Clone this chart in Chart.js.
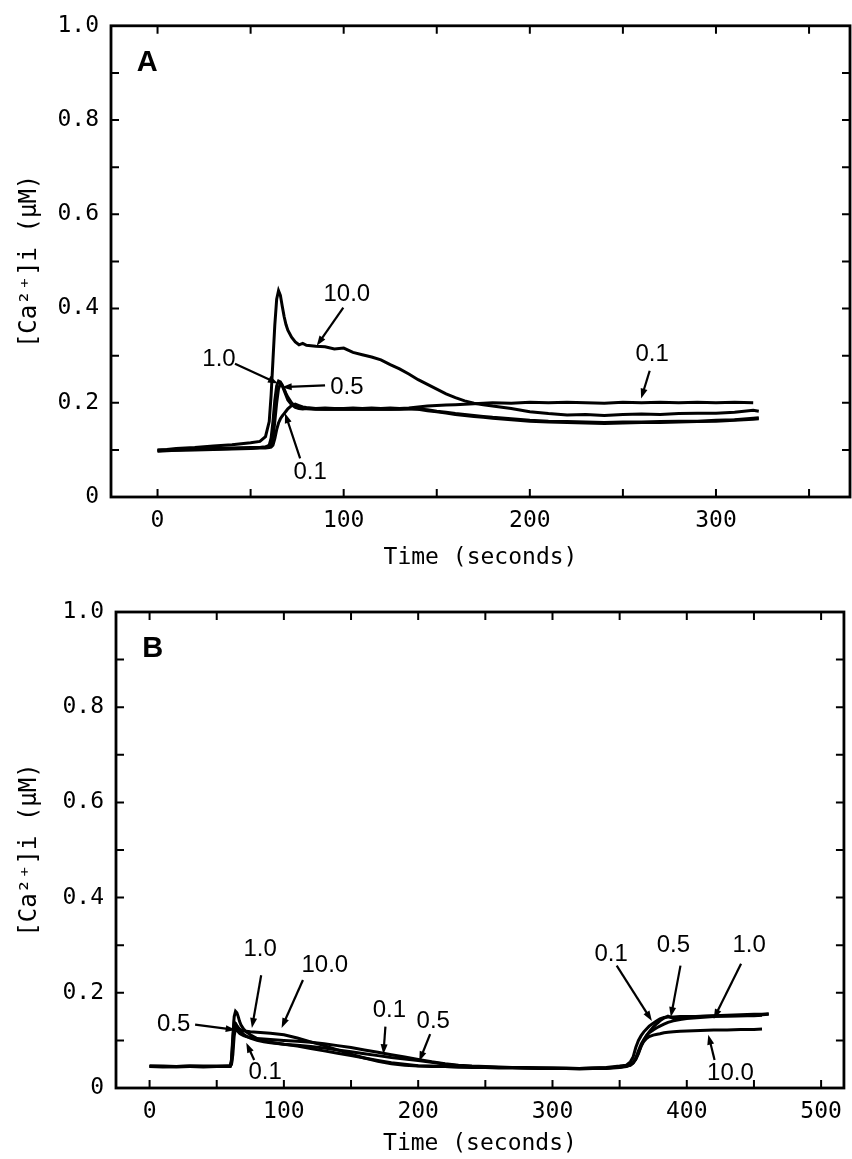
<!DOCTYPE html>
<html>
<head>
<meta charset="utf-8">
<script src="https://cdn.jsdelivr.net/npm/chart.js@4.4.1/dist/chart.umd.min.js"></script>
<style>
  html, body { margin: 0; padding: 0; background: #fff; }
  #wrap { position: relative; width: 852px; height: 1159px; }
  canvas { position: absolute; left: 0; }
</style>
</head>
<body>
<div id="wrap">
  <canvas id="chartA" width="852" height="580" style="top:0"></canvas>
  <canvas id="chartB" width="852" height="579" style="top:580px"></canvas>
</div>
<script>
// ---- Panel A: Zeit (s) und [Ca2+]i (uM) je Konzentration ----
var zeitA = [0,5,10,20,30,40,50,55,58,60, 61,62,63,64,65,66,67,68,69,70,
  72,74,76,78,80,85,90,95,100,105, 110,115,120,125,130,135,140,145,150,155,
  160,165,170,175,180,190,200,210,220,230, 240,250,260,270,280,290,300,310,320,323];

var a10 = [0.100,0.101,0.103,0.105,0.108,0.111,0.115,0.118,0.128,0.160,
  0.215,0.290,0.365,0.420,0.438,0.428,0.405,0.383,0.366,0.354,
  0.339,0.329,0.323,0.326,0.322,0.320,0.319,0.314,0.316,0.307,
  0.302,0.297,0.291,0.281,0.272,0.261,0.249,0.239,0.229,0.219,
  0.211,0.204,0.199,0.196,0.193,0.188,0.181,0.177,0.174,0.175,
  0.173,0.175,0.176,0.175,0.177,0.178,0.178,0.180,0.184,0.182];

var a1 = [0.098,0.099,0.100,0.101,0.102,0.103,0.104,0.105,0.106,0.110,
  0.125,0.160,0.205,0.236,0.246,0.244,0.238,0.229,0.220,0.212,
  0.200,0.192,0.189,0.188,0.188,0.186,0.187,0.186,0.187,0.186,
  0.187,0.186,0.187,0.186,0.187,0.188,0.186,0.183,0.181,0.178,
  0.175,0.173,0.171,0.169,0.167,0.164,0.161,0.159,0.158,0.157,
  0.156,0.157,0.158,0.158,0.159,0.160,0.161,0.163,0.165,0.166];

var a05 = [0.099,0.100,0.100,0.102,0.103,0.104,0.105,0.105,0.106,0.107,
  0.110,0.125,0.160,0.200,0.230,0.240,0.236,0.226,0.216,0.206,
  0.196,0.190,0.188,0.187,0.188,0.187,0.186,0.187,0.186,0.187,
  0.186,0.187,0.186,0.187,0.186,0.187,0.187,0.185,0.182,0.180,
  0.177,0.175,0.173,0.171,0.169,0.166,0.163,0.161,0.160,0.159,
  0.158,0.159,0.159,0.160,0.161,0.161,0.163,0.164,0.167,0.168];

var a01 = [0.097,0.098,0.099,0.100,0.101,0.102,0.103,0.104,0.104,0.105,
  0.106,0.110,0.124,0.143,0.157,0.166,0.172,0.177,0.182,0.187,
  0.194,0.197,0.194,0.191,0.190,0.188,0.189,0.188,0.188,0.189,
  0.188,0.189,0.188,0.189,0.188,0.189,0.191,0.193,0.194,0.195,
  0.196,0.197,0.198,0.199,0.200,0.199,0.201,0.200,0.201,0.200,
  0.199,0.201,0.200,0.201,0.200,0.201,0.200,0.201,0.200,null];

// ---- Panel B ----
var zeitB = [0,10,20,30,40,50,58,60,61,62, 63,64,65,66,67,68,70,72,75,80,
  85,90,100,110,120,130,140,150,160,170, 180,190,200,210,220,230,240,250,260,270,
  280,290,300,310,320,330,340,350,355,358, 360,362,364,366,368,370,372,375,378,380,
  383,386,390,395,400,410,420,430,440,450, 456,461];

var b1 = [0.045,0.045,0.044,0.045,0.045,0.045,0.045,0.046,0.060,0.110,
  0.150,0.161,0.158,0.150,0.140,0.133,0.124,0.118,0.112,0.104,
  0.099,0.096,0.092,0.088,0.083,0.078,0.073,0.068,0.063,0.058,
  0.053,0.050,0.047,0.046,0.045,0.044,0.043,0.043,0.042,0.042,
  0.042,0.041,0.041,0.041,0.040,0.041,0.041,0.043,0.045,0.048,
  0.053,0.063,0.078,0.092,0.102,0.110,0.116,0.122,0.127,0.130,
  0.134,0.138,0.141,0.144,0.146,0.148,0.150,0.151,0.152,0.153,
  0.154,0.155];

var b10 = [0.046,0.046,0.045,0.046,0.046,0.046,0.046,0.046,0.050,0.088,
  0.124,0.132,0.130,0.127,0.124,0.122,0.120,0.119,0.118,0.117,
  0.116,0.115,0.112,0.105,0.097,0.089,0.080,0.071,0.063,0.056,
  0.051,0.048,0.046,0.045,0.045,0.044,0.044,0.043,0.043,0.043,
  0.042,0.042,0.042,0.041,0.041,0.042,0.042,0.044,0.046,0.049,
  0.053,0.061,0.074,0.088,0.098,0.104,0.108,0.111,0.113,0.114,
  0.116,0.117,0.118,0.119,0.120,0.121,0.122,0.122,0.123,0.123,
  0.124,null];

var b05 = [0.045,0.044,0.045,0.045,0.044,0.045,0.045,0.045,0.055,0.100,
  0.138,0.136,0.131,0.126,0.122,0.118,0.113,0.109,0.105,0.100,
  0.097,0.095,0.092,0.090,0.087,0.084,0.080,0.076,0.072,0.068,
  0.064,0.061,0.058,0.054,0.050,0.047,0.045,0.044,0.043,0.043,
  0.042,0.042,0.041,0.041,0.041,0.041,0.042,0.044,0.046,0.048,
  0.052,0.060,0.072,0.088,0.100,0.110,0.118,0.128,0.136,0.141,
  0.147,0.151,0.146,0.147,0.149,0.151,0.152,0.153,0.154,0.155,
  0.155,0.156];

var b01 = [0.046,0.045,0.045,0.046,0.045,0.045,0.046,0.046,0.050,0.070,
  0.110,0.125,0.122,0.118,0.115,0.113,0.110,0.108,0.106,0.104,
  0.103,0.102,0.100,0.098,0.096,0.093,0.089,0.085,0.080,0.075,
  0.070,0.065,0.060,0.055,0.051,0.048,0.046,0.045,0.044,0.043,
  0.043,0.042,0.042,0.042,0.041,0.042,0.043,0.046,0.048,0.055,
  0.065,0.085,0.100,0.110,0.118,0.124,0.130,0.136,0.142,0.145,
  0.148,0.149,0.149,0.150,0.150,0.150,0.151,0.151,0.152,0.152,
  0.153,null];

// Achsenbeschriftungen
var xLabelsA = [0, 100, 200, 300];
var xLabelsB = [0, 100, 200, 300, 400, 500];
var yLabels = [0, 0.2, 0.4, 0.6, 0.8, 1.0];

// Beschriftungen im Diagramm: Text bei (x,y), Pfeil von 'von' nach 'zu' (Datenkoordinaten)
var notizenA = [
  {text: 'A', x: -5.6, y: 0.92, fett: true},
  {text: '10.0', x: 101.7, y: 0.431, von: [99.8, 0.402], zu: [85.5, 0.321]},
  {text: '1.0', x: 33, y: 0.292, von: [41.6, 0.283], zu: [64.7, 0.241]},
  {text: '0.5', x: 101.7, y: 0.233, von: [90, 0.237], zu: [66.7, 0.233]},
  {text: '0.1', x: 82, y: 0.053, von: [76.6, 0.082], zu: [68.5, 0.178]},
  {text: '0.1', x: 265.7, y: 0.303, von: [264.4, 0.268], zu: [259.8, 0.209]}
];
var notizenB = [
  {text: 'B', x: 2.4, y: 0.922, fett: true},
  {text: '1.0', x: 82.3, y: 0.292, von: [83.1, 0.237], zu: [76.2, 0.126]},
  {text: '10.0', x: 130.5, y: 0.257, von: [114.2, 0.227], zu: [98.3, 0.126]},
  {text: '0.5', x: 17.9, y: 0.133, von: [33.9, 0.133], zu: [64.1, 0.122]},
  {text: '0.1', x: 86, y: 0.032, von: [77.9, 0.059], zu: [72, 0.095]},
  {text: '0.1', x: 178.6, y: 0.164, von: [175.6, 0.129], zu: [174.1, 0.071]},
  {text: '0.5', x: 211.2, y: 0.141, von: [208.9, 0.113], zu: [200.8, 0.056]},
  {text: '0.1', x: 343.7, y: 0.28, von: [347.8, 0.257], zu: [374, 0.141]},
  {text: '0.5', x: 390, y: 0.3, von: [395.3, 0.257], zu: [388.1, 0.149]},
  {text: '1.0', x: 446.4, y: 0.3, von: [440.4, 0.261], zu: [420, 0.145]},
  {text: '10.0', x: 432.5, y: 0.03, von: [420.7, 0.059], zu: [416, 0.112]}
];

Chart.defaults.color = '#000';
Chart.defaults.font.family = "'DejaVu Sans Mono', monospace";

var rahmen = {
  id: 'rahmen',
  afterDatasetsDraw: function(chart, args, opts) {
    var ctx = chart.ctx, a = chart.chartArea;
    var xs = chart.scales.x, ys = chart.scales.y;
    ctx.save();
    ctx.strokeStyle = '#000';
    ctx.fillStyle = '#000';
    ctx.lineWidth = 2.8;
    ctx.strokeRect(a.left, a.top, a.right - a.left, a.bottom - a.top);
    ctx.lineWidth = 2;
    ctx.beginPath();
    for (var t = 0; t <= opts.xMax; t += 50) {
      var px = xs.getPixelForValue(t);
      ctx.moveTo(px, a.bottom); ctx.lineTo(px, a.bottom - 8);
      ctx.moveTo(px, a.top); ctx.lineTo(px, a.top + 8);
    }
    for (var k = 1; k < 10; k++) {
      var py = ys.getPixelForValue(k / 10);
      ctx.moveTo(a.left, py); ctx.lineTo(a.left + 8, py);
      ctx.moveTo(a.right, py); ctx.lineTo(a.right - 8, py);
    }
    ctx.stroke();

    opts.notizen.forEach(function(n) {
      ctx.font = n.fett ? 'bold 29px "Liberation Sans"' : '24px "Liberation Sans"';
      ctx.textAlign = 'center';
      ctx.textBaseline = 'middle';
      ctx.fillText(n.text, xs.getPixelForValue(n.x), ys.getPixelForValue(n.y));
      if (!n.von) return;
      var x1 = xs.getPixelForValue(n.von[0]), y1 = ys.getPixelForValue(n.von[1]);
      var x2 = xs.getPixelForValue(n.zu[0]), y2 = ys.getPixelForValue(n.zu[1]);
      var w = Math.atan2(y2 - y1, x2 - x1);
      ctx.lineWidth = 2.2;
      ctx.beginPath();
      ctx.moveTo(x1, y1);
      ctx.lineTo(x2 - 6 * Math.cos(w), y2 - 6 * Math.sin(w));
      ctx.stroke();
      ctx.beginPath();
      ctx.moveTo(x2, y2);
      ctx.lineTo(x2 - 10 * Math.cos(w) + 3.5 * Math.sin(w), y2 - 10 * Math.sin(w) - 3.5 * Math.cos(w));
      ctx.lineTo(x2 - 10 * Math.cos(w) - 3.5 * Math.sin(w), y2 - 10 * Math.sin(w) + 3.5 * Math.cos(w));
      ctx.closePath();
      ctx.fill();
    });
    ctx.restore();
  }
};

function linien(zeit, reihen) {
  return reihen.map(function(werte) {
    return {
      data: zeit.map(function(t, i) { return {x: t, y: werte[i]}; }),
      borderColor: '#000',
      borderWidth: 3,
      pointRadius: 0,
      tension: 0,
      fill: false
    };
  });
}

function diagramm(id, zeit, reihen, p) {
  new Chart(id, {
    type: 'line',
    data: { datasets: linien(zeit, reihen) },
    plugins: [rahmen],
    options: {
      responsive: false,
      animation: false,
      devicePixelRatio: 1,
      layout: { padding: { top: p.oben, right: p.rechts, left: 0, bottom: 0 } },
      plugins: {
        legend: { display: false },
        tooltip: { enabled: false },
        rahmen: { xMax: p.xMax, notizen: p.notizen }
      },
      scales: {
        x: {
          type: 'linear', min: -25, max: p.xMax2,
          grid: { display: false, drawTicks: false },
          border: { display: false },
          afterBuildTicks: function(s) { s.ticks = p.xLabels.map(function(v) { return {value: v}; }); },
          afterFit: function(s) { s.height = p.xHoehe; },
          ticks: { padding: 10, font: { size: 23 }, maxRotation: 0, autoSkip: false },
          title: { display: true, text: 'Time (seconds)', font: { size: 23 }, padding: { top: 0, bottom: p.titelUnten } }
        },
        y: {
          min: 0, max: 1,
          grid: { display: false, drawTicks: false },
          border: { display: false },
          afterBuildTicks: function(s) { s.ticks = yLabels.map(function(v) { return {value: v}; }); },
          afterFit: function(s) { s.width = p.links; },
          ticks: {
            padding: 12, font: { size: 23 }, autoSkip: false,
            callback: function(v) { return v === 0 ? '0' : v.toFixed(1); }
          },
          title: { display: true, text: '[Ca²⁺]i (μM)', font: { size: 24 }, padding: { top: 15, bottom: 0 } }
        }
      }
    }
  });
}

diagramm('chartA', zeitA, [a10, a1, a05, a01], {
  oben: 24, rechts: 2, links: 111, xHoehe: 83, titelUnten: 8,
  xMax: 350, xMax2: 372, xLabels: xLabelsA, notizen: notizenA
});
diagramm('chartB', zeitB, [b10, b1, b05, b01], {
  oben: 32, rechts: 4, links: 116, xHoehe: 71, titelUnten: 1,
  xMax: 500, xMax2: 517, xLabels: xLabelsB, notizen: notizenB
});
</script>
</body>
</html>
